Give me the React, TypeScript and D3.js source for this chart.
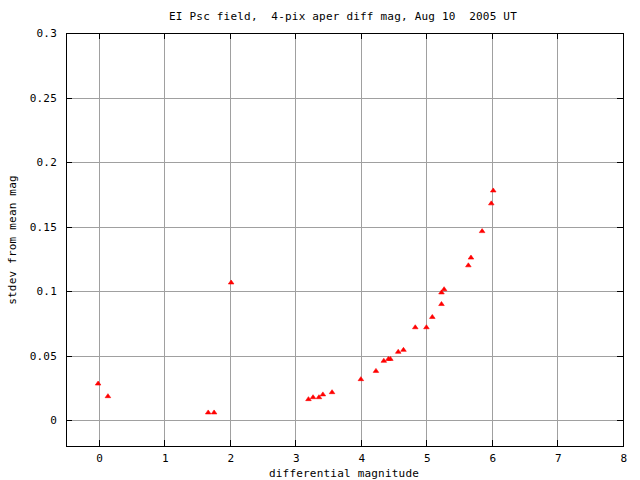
import React from 'react';
import * as d3 from 'd3';

const magnitudes = [
  -0.01, 0.14, 1.67, 1.76, 2.02, 3.2, 3.27, 3.36, 3.42, 3.56, 4.0, 4.23, 4.35, 4.42, 4.45,
  4.57, 4.65, 4.83, 5.0, 5.09, 5.23, 5.23, 5.27, 5.64, 5.68, 5.85, 5.99, 6.02,
];
const stdevs = [
  0.0284, 0.0186, 0.006, 0.006, 0.1067, 0.0163, 0.0178, 0.0178, 0.02, 0.0217, 0.0318, 0.0382,
  0.046, 0.0475, 0.0475, 0.053, 0.0545, 0.072, 0.072, 0.08, 0.09, 0.099, 0.1015, 0.12, 0.126,
  0.1465, 0.168, 0.178,
];
const xTicks = [0, 1, 2, 3, 4, 5, 6, 7, 8];
const yTicks = [0, 0.05, 0.1, 0.15, 0.2, 0.25, 0.3];
const yTickLabels = ['0', '0.05', '0.1', '0.15', '0.2', '0.25', '0.3'];

const W = 640;
const H = 480;
const left = 66;
const right = 623;
const top = 33;
const bottom = 446;
const font = '"DejaVu Sans Mono", monospace';

export default function App() {
  const x = d3.scaleLinear().domain([-0.5, 8]).range([left, right]);
  const y = d3.scaleLinear().domain([-0.02, 0.3]).range([bottom, top]);
  // snap to pixel centres so 1px lines stay crisp
  const px = (v: number) => Math.round(v) + 0.5;
  const tri = 'M0,-2.5 L2.8,1.5 L-2.8,1.5 Z';

  return (
    <svg width={W} height={H} style={{ position: 'absolute', left: 0, top: 0, background: '#fff' }}
      fontFamily={font} fontSize={11} letterSpacing={0.2}>
      <rect width={W} height={H} fill="#fff" />
      <g shapeRendering="crispEdges">
        {xTicks.map(t => (
          <g key={'x' + t}>
            <line x1={px(x(t))} x2={px(x(t))} y1={top} y2={bottom} stroke="#a0a0a0" />
            <line x1={px(x(t))} x2={px(x(t))} y1={bottom} y2={bottom - 6} stroke="#000" />
            <line x1={px(x(t))} x2={px(x(t))} y1={top} y2={top + 6} stroke="#000" />
          </g>
        ))}
        {yTicks.map(t => (
          <g key={'y' + t}>
            <line x1={left} x2={right} y1={px(y(t))} y2={px(y(t))} stroke="#a0a0a0" />
            <line x1={left} x2={left + 6} y1={px(y(t))} y2={px(y(t))} stroke="#000" />
            <line x1={right} x2={right - 6} y1={px(y(t))} y2={px(y(t))} stroke="#000" />
          </g>
        ))}
        <rect x={left + 0.5} y={top + 0.5} width={right - left} height={bottom - top} fill="none" stroke="#000" />
      </g>
      {xTicks.map(t => (
        <text key={'xl' + t} x={x(t) + 1} y={462} textAnchor="middle">{t}</text>
      ))}
      {yTicks.map((t, i) => (
        <text key={'yl' + t} x={57} y={y(t) + 4} textAnchor="end">{yTickLabels[i]}</text>
      ))}
      {magnitudes.map((m, i) => (
        <path key={i} d={tri} transform={`translate(${x(m)},${y(stdevs[i])})`}
          fill="#f00" stroke="#f00" strokeWidth={0.6} />
      ))}
      <text x={343} y={20} textAnchor="middle" style={{ whiteSpace: 'pre' }}>
        EI Psc field,  4-pix aper diff mag, Aug 10  2005 UT
      </text>
      <text x={344} y={477} textAnchor="middle">differential magnitude</text>
      <text transform="translate(16,240) rotate(-90)" textAnchor="middle">stdev from mean mag</text>
    </svg>
  );
}
